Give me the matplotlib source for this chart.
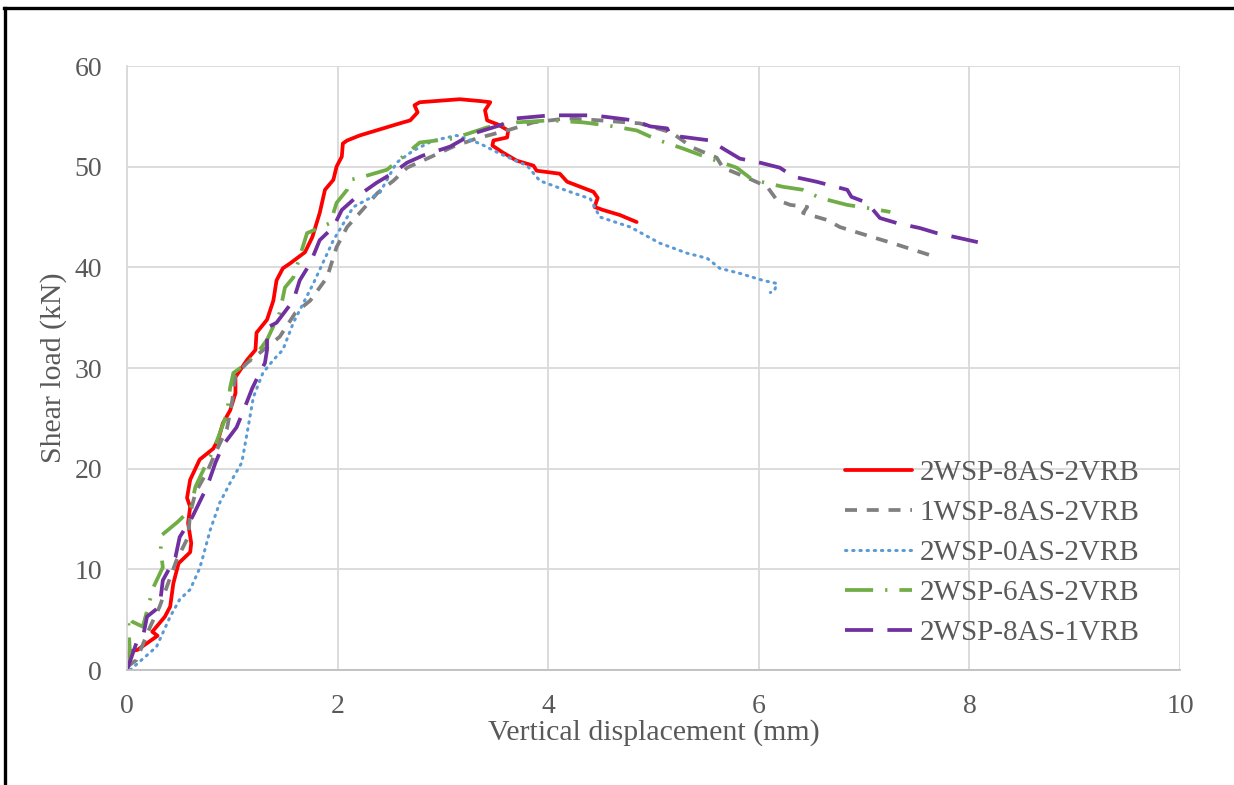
import matplotlib
matplotlib.use("Agg")
import matplotlib.pyplot as plt
from matplotlib.lines import Line2D

plt.rcParams['font.family'] = ['Liberation Serif', 'DejaVu Serif']

# ---------------- data ----------------
labels = ["2WSP-8AS-2VRB", "1WSP-8AS-2VRB", "2WSP-0AS-2VRB", "2WSP-6AS-2VRB", "2WSP-8AS-1VRB"]

red_x = [0, 0.0, 0.1, 0.29, 0.24, 0.36, 0.41, 0.44, 0.49, 0.6, 0.61, 0.58, 0.6, 0.57, 0.6, 0.69, 0.82, 0.87,
         0.91, 0.98, 1.03, 1.03, 1.14, 1.22, 1.23, 1.33, 1.39, 1.42, 1.48, 1.55, 1.69, 1.76, 1.83, 1.88, 1.96,
         1.99, 2.04, 2.05, 2.09, 2.21, 2.40, 2.59, 2.69, 2.76, 2.73, 2.78, 3.16, 3.37, 3.45, 3.40, 3.42, 3.52,
         3.62, 3.61, 3.48, 3.47, 3.57, 3.70, 3.86, 3.89, 4.11, 4.18, 4.43, 4.47, 4.44, 4.52, 4.68, 4.84]
red_y = [1.0, 1.8, 2.0, 3.4, 3.8, 5.3, 6.3, 8.6, 10.6, 11.7, 12.6, 14.6, 16.2, 17.1, 18.9, 20.9, 22.0, 23.0,
         24.5, 25.8, 27.5, 29.1, 30.8, 31.8, 33.5, 34.8, 36.7, 38.7, 39.9, 40.4, 41.5, 43.0, 45.4, 47.7, 48.7,
         50.0, 51.0, 52.3, 52.6, 53.1, 53.7, 54.3, 54.6, 55.4, 56.1, 56.4, 56.7, 56.5, 56.4, 55.6, 54.6, 54.2,
         53.6, 52.9, 52.6, 52.1, 51.4, 50.6, 50.1, 49.6, 49.3, 48.5, 47.5, 46.9, 46.0, 45.7, 45.2, 44.5]

gray_x = [0, 0.09, 0.22, 0.31, 0.39, 0.47, 0.58, 0.6, 0.65, 0.77, 0.85, 0.95, 1.0, 1.03, 1.14, 1.26, 1.45, 1.6,
          1.74, 1.9, 1.99, 2.09, 2.21, 2.38, 2.53, 2.66, 2.85, 3.10, 3.32, 3.61, 3.86, 4.18, 4.49, 4.87, 5.17,
          5.37, 5.60, 5.66, 5.89, 6.08, 6.17, 6.30, 6.46, 6.42, 6.65, 6.77, 7.08, 7.27, 7.63]
gray_y = [0.3, 1.0, 4.3, 6.3, 8.6, 10.9, 13.2, 15.6, 17.6, 19.9, 21.8, 24.0, 26.8, 29.3, 30.5, 31.5, 33.1, 35.5,
          36.7, 39.0, 42.0, 44.0, 45.4, 47.4, 48.6, 49.9, 50.8, 52.0, 52.8, 53.6, 54.4, 54.8, 54.6, 54.3, 53.4,
          51.9, 50.9, 49.9, 48.9, 48.0, 46.7, 46.2, 46.0, 45.4, 44.7, 44.0, 43.0, 42.4, 41.2]

blue_x = [0.03, 0.28, 0.41, 0.5, 0.6, 0.69, 0.72, 0.79, 0.88, 0.98, 1.09, 1.14, 1.2, 1.29, 1.39, 1.48, 1.58,
          1.77, 1.96, 2.15, 2.4, 2.56, 2.72, 2.91, 3.13, 3.35, 3.54, 3.80, 3.92, 4.18, 4.40, 4.49, 4.78, 5.06,
          5.32, 5.51, 5.63, 5.82, 6.04, 6.17, 6.15, 6.11]
blue_y = [0, 2.3, 5.3, 7.0, 8.0, 10.1, 11.2, 13.9, 16.6, 18.6, 20.6, 23.5, 27.1, 29.5, 30.8, 31.8, 34.5, 38.4,
          42.7, 46.0, 47.4, 50.4, 51.6, 52.6, 53.1, 52.3, 51.3, 50.1, 48.6, 47.6, 46.8, 45.0, 44.0, 42.4, 41.4,
          40.9, 39.9, 39.4, 38.7, 38.4, 37.7, 37.5]

green_x = [0.0, 0.03, 0.01, 0.05, 0.15, 0.25, 0.34, 0.32, 0.33, 0.48, 0.6, 0.65, 0.74, 0.82, 0.88, 0.95, 0.98,
           1.01, 1.14, 1.26, 1.33, 1.45, 1.50, 1.58, 1.71, 1.93, 1.99, 2.09, 2.12, 2.21, 2.47, 2.69, 2.78, 3.10,
           3.42, 3.70, 4.02, 4.33, 4.56, 4.84, 5.03, 5.28, 5.54, 5.79, 5.94, 6.23, 6.42, 6.58, 6.84, 7.03, 7.25]
green_y = [0.5, 1.3, 5.3, 4.8, 4.3, 8.2, 10.2, 12.0, 13.4, 14.7, 15.9, 18.2, 20.2, 21.8, 23.5, 25.5, 28.1,
           29.5, 30.5, 31.8, 32.8, 35.5, 38.0, 39.0, 43.4, 44.4, 46.4, 47.7, 48.7, 48.9, 49.7, 51.6, 52.4, 52.8,
           53.9, 54.4, 54.6, 54.4, 54.1, 53.6, 52.7, 51.8, 50.8, 49.9, 48.7, 48.0, 47.7, 46.9, 46.2, 45.9, 45.5]

purple_x = [0, 0.09, 0.15, 0.19, 0.31, 0.34, 0.46, 0.5, 0.62, 0.69, 0.76, 0.84, 0.91, 1.04, 1.1, 1.19, 1.26,
            1.31, 1.33, 1.33, 1.42, 1.58, 1.64, 1.74, 1.83, 1.96, 2.04, 2.18, 2.37, 2.53, 2.66, 2.81, 3.07, 3.29,
            3.54, 3.70, 4.02, 4.43, 4.81, 4.97, 5.13, 5.16, 5.32, 5.54, 5.66, 5.82, 6.01, 6.20, 6.33, 6.55, 6.84,
            6.88, 7.03, 7.15, 7.31, 7.53, 7.69, 7.91, 8.08]
purple_y = [0, 2.7, 3.2, 5.3, 6.3, 8.9, 11.2, 13.2, 15.2, 16.7, 18.2, 20.6, 22.3, 24.1, 25.6, 28.0, 29.5,
            30.5, 31.8, 34.0, 34.5, 36.7, 38.7, 40.4, 42.7, 44.0, 45.7, 47.0, 48.4, 49.4, 50.4, 51.1, 52.0, 53.3,
            54.1, 54.8, 55.1, 55.1, 54.6, 54.0, 53.8, 53.1, 52.9, 52.6, 51.8, 50.8, 50.4, 49.9, 49.0, 48.5, 47.7,
            47.0, 46.4, 44.9, 44.4, 43.9, 43.4, 42.9, 42.5]

x_ticks = [0, 2, 4, 6, 8, 10]
y_ticks = [0, 10, 20, 30, 40, 50, 60]

# ---------------- figure ----------------
W, H = 1234, 785
fig = plt.figure(figsize=(W / 100, H / 100), dpi=100)
ax = fig.add_axes([127 / W, 1 - 670 / H, (1180 - 127) / W, (670 - 66) / H])

txt = '#595959'
grid_c = '#d9d9d9'
lw = 2.7

series = [
    (red_x, red_y, '#ff0000', '-', lw),
    (gray_x, gray_y, '#808080', (0, (3.2, 2.6)), lw),
    (blue_x, blue_y, '#5b9bd5', (0, (0.45, 1.9)), 2.2),
    (green_x, green_y, '#70ad47', (0, (7.5, 3.2, 0.6, 3.2)), lw),
    (purple_x, purple_y, '#7030a0', (0, (7.5, 3.8)), lw),
]
for (xs, ys, c, ls, w), lab in zip(series, labels):
    line, = ax.plot(xs, ys, color=c, lw=w, linestyle=ls, label=lab,
                    solid_joinstyle='round', solid_capstyle='round')
    if c == '#5b9bd5':
        line.set_dash_capstyle('round')

ax.set_xlim(0, 10)
ax.set_ylim(0, 60)
ax.set_xticks(x_ticks)
ax.set_yticks(y_ticks)
ax.grid(True, color=grid_c, lw=1.3)
ax.set_axisbelow(True)
for s in ['top', 'right']:
    ax.spines[s].set_visible(False)
for s in ['left', 'bottom']:
    ax.spines[s].set_color(grid_c)
    ax.spines[s].set_linewidth(1.3)
ax.spines['bottom'].set_color('#bfbfbf')
ax.tick_params(length=0, labelsize=20, labelcolor=txt)
ax.tick_params(axis='x', pad=17)
ax.tick_params(axis='y', pad=18)
ax.set_xlabel('Vertical displacement (mm)', fontsize=21.5, color=txt, labelpad=0.5)
ax.set_ylabel('Shear load (kN)', fontsize=21.5, color=txt, labelpad=5)

leg = ax.legend(loc='upper left', bbox_to_anchor=(845 / W, 1 - 460 / H), bbox_transform=fig.transFigure,
                frameon=False, fontsize=21, handlelength=2.3, handletextpad=0.25, labelspacing=0.46,
                borderaxespad=0, borderpad=0)
for t in leg.get_texts():
    t.set_color(txt)

# outer frame (top and left edges visible)
fig.add_artist(Line2D([4 / W, 1], [1 - 8 / H, 1 - 8 / H], transform=fig.transFigure, color='black', lw=2.4))
fig.add_artist(Line2D([5 / W, 5 / W], [0, 1 - 8 / H], transform=fig.transFigure, color='black', lw=2.4))

fig.savefig('out.png', dpi=100)
